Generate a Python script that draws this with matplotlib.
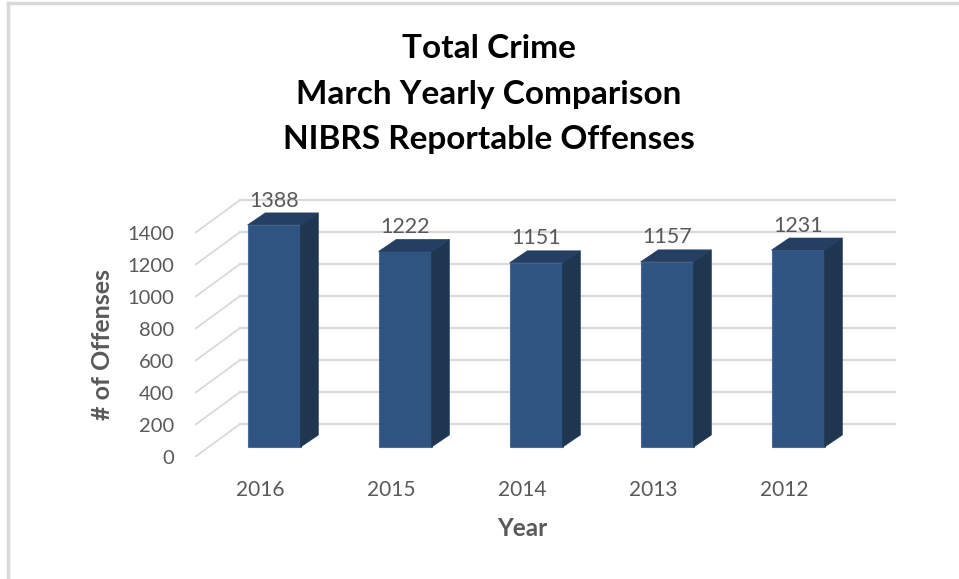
import matplotlib
matplotlib.use("Agg")
from matplotlib import pyplot as plt
from matplotlib.patches import Polygon
from matplotlib.lines import Line2D

# March total crime, NIBRS reportable offenses
years = ["2016", "2015", "2014", "2013", "2012"]
offenses = [1388, 1222, 1151, 1157, 1231]
yticks = [0, 200, 400, 600, 800, 1000, 1200, 1400]

plt.rcParams['font.family'] = ['Lato', 'DejaVu Sans']

front_col = "#2f5481"
side_col = "#1f3651"
top_col = "#243f62"
grid_col = "#d9d9d9"
text_col = "#595959"

fig = plt.figure(figsize=(9.59, 5.79), dpi=100)
W, H = 959, 579

# axes laid out in pixels: front plane x 195.., 131 px per category, 0.16 px per offense
px_cat = 131
px_val = 0.16
x0, y0 = 195, 457
ylim_top = 1650
ax = fig.add_axes([x0 / W, (H - y0) / H, 5.5 * px_cat / W, ylim_top * px_val / H])
ax.set_xlim(-0.5, 5.0)
ax.set_ylim(0, ylim_top)
for s in ax.spines.values():
    s.set_visible(False)
ax.set_xticks([])
ax.set_yticks(yticks)
ax.set_yticklabels([str(v) for v in yticks], fontsize=14.5, color=text_col)
ax.tick_params(axis='y', length=0, pad=15)

# depth of the 3d box (full wall), bar offset and bar depth, in data units
depth_x, depth_y = 45 / px_cat, 33 / px_val
bar_dx, bar_dy = 13.6 / px_cat, 10 / px_val
side_dx, side_dy = 17.7 / px_cat, 12 / px_val
bar_w = 53 / px_cat

# back wall gridlines and side diagonals
for v in yticks:
    ax.plot([-0.5, -0.5 + depth_x], [v, v + depth_y], color=grid_col, lw=1.3, zorder=1)
    ax.plot([-0.5 + depth_x, 4.5 + depth_x], [v + depth_y, v + depth_y],
            color=grid_col, lw=1.6, zorder=1)

for i, v in enumerate(offenses):
    xc = i + bar_dx
    ax.bar(xc, v, width=bar_w, bottom=bar_dy, color=front_col,
           edgecolor="#4a6b94", linewidth=0.8, zorder=3)
    xr = xc + bar_w / 2
    xl = xc - bar_w / 2
    top = bar_dy + v
    ax.add_patch(Polygon([(xr, bar_dy), (xr + side_dx, bar_dy + side_dy),
                          (xr + side_dx, top + side_dy), (xr, top)],
                         closed=True, facecolor=side_col, edgecolor=side_col, lw=0.5, zorder=3))
    ax.add_patch(Polygon([(xl, top), (xr, top), (xr + side_dx, top + side_dy),
                          (xl + side_dx, top + side_dy)],
                         closed=True, facecolor=top_col, edgecolor=top_col, lw=0.5, zorder=3))
    ax.text(xc, top + side_dy + 15, str(v), ha="center", va="bottom",
            fontsize=15.5, color=text_col, zorder=4)
    ax.text(i, -206, years[i], ha="center", va="center", fontsize=15,
            color=text_col, clip_on=False)

fig.text(103 / W, 1 - 345 / H, "# of Offenses", rotation=90, ha="center", va="center",
         fontsize=18, fontweight="bold", color=text_col)
fig.text(522 / W, 1 - 528 / H, "Year", ha="center", va="center",
         fontsize=17.5, fontweight="bold", color=text_col)

titles = ["Total Crime", "March Yearly Comparison", "NIBRS Reportable Offenses"]
for k, t in enumerate(titles):
    fig.text(489 / W, 1 - (58.5 + 45.5 * k) / H, t, ha="center", va="baseline",
             fontsize=24, fontweight="bold", color="#000000")

# thin frame on top and left edge
fig.add_artist(Line2D([8 / W, 1], [1 - 3 / H, 1 - 3 / H], color="#d9d9d9", lw=2.5))
fig.add_artist(Line2D([8 / W, 8 / W], [0, 1 - 3 / H], color="#d9d9d9", lw=2.5))

fig.savefig("out.png", dpi=100)
